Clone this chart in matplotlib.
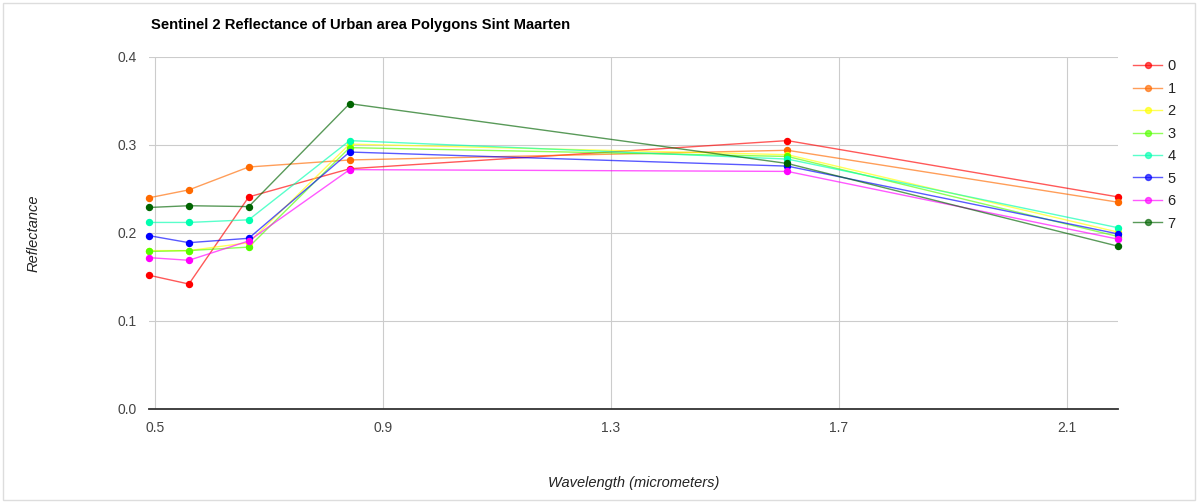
import matplotlib.pyplot as plt
from matplotlib.lines import Line2D
from matplotlib.patches import Rectangle

plt.rcParams['font.family'] = ['Liberation Sans', 'DejaVu Sans']

# Sentinel-2 band centres (micrometers): B2, B3, B4, B8, B11, B12
wavelength = [0.49, 0.56, 0.665, 0.842, 1.61, 2.19]

poly_0 = [0.152, 0.142, 0.241, 0.273, 0.305, 0.241]
poly_1 = [0.240, 0.249, 0.275, 0.283, 0.294, 0.235]
poly_2 = [0.180, 0.180, 0.189, 0.301, 0.289, 0.201]
poly_3 = [0.179, 0.180, 0.184, 0.297, 0.287, 0.196]
poly_4 = [0.212, 0.212, 0.215, 0.305, 0.284, 0.206]
poly_5 = [0.197, 0.189, 0.194, 0.292, 0.276, 0.199]
poly_6 = [0.172, 0.169, 0.191, 0.272, 0.270, 0.193]
poly_7 = [0.229, 0.231, 0.230, 0.347, 0.279, 0.185]

series = [poly_0, poly_1, poly_2, poly_3, poly_4, poly_5, poly_6, poly_7]
labels = ['0', '1', '2', '3', '4', '5', '6', '7']
colors = ['#ff0000', '#ff6a00', '#ffff00', '#55ff00',
          '#00ffb0', '#0000ff', '#ff00ff', '#006400']

xticks = [0.5, 0.9, 1.3, 1.7, 2.1]
yticks = [0.0, 0.1, 0.2, 0.3, 0.4]

fig = plt.figure(figsize=(11.98, 5.03), dpi=100)
ax = fig.add_axes([149 / 1198, 94 / 503, 969 / 1198, 352 / 503])

for vals, c, lab in zip(series, colors, labels):
    ax.plot(wavelength, vals, color=c, alpha=0.65, lw=1.0, zorder=3,
            clip_on=False)
    ax.plot(wavelength, vals, ls='none', marker='o', ms=4.3,
            color=c, zorder=4, clip_on=False)

ax.set_xlim(0.49, 2.19)
ax.set_ylim(0.0, 0.4)
ax.set_xticks(xticks)
ax.set_yticks(yticks)
ax.set_xticklabels(['0.5', '0.9', '1.3', '1.7', '2.1'])
ax.set_yticklabels(['0.0', '0.1', '0.2', '0.3', '0.4'])
ax.grid(True, color='#cccccc', lw=0.8, zorder=0)
for s in ['top', 'right', 'left']:
    ax.spines[s].set_visible(False)
ax.spines['bottom'].set_color('#333333')
ax.spines['bottom'].set_linewidth(1.3)
ax.spines['bottom'].set_zorder(5)
ax.tick_params(length=0, labelsize=10, labelcolor='#444444')
ax.tick_params(axis='x', pad=9)
ax.tick_params(axis='y', pad=9)

ax.set_xlabel('Wavelength (micrometers)', fontsize=10.5, style='italic',
              color='#222222', labelpad=29)
ax.set_ylabel('Reflectance', fontsize=10.5, style='italic',
              color='#222222', labelpad=55)

fig.text(151 / 1198, 1 - 25 / 503, 'Sentinel 2 Reflectance of Urban area Polygons Sint Maarten',
         fontsize=10.6, fontweight='bold', color='#000000', va='center')

handles = [Line2D([], [], color=c, lw=1.0, alpha=0.65, marker='o', ms=4.3,
                  markerfacecolor=c, markeredgecolor=c) for c in colors]
leg = fig.legend(handles, labels, loc='upper left',
                 bbox_to_anchor=(1126 / 1198, 1 - 52 / 503),
                 frameon=False, fontsize=10.5, handlelength=1.95,
                 handletextpad=0.4, labelspacing=0.58, borderpad=0)
for t in leg.get_texts():
    t.set_color('#222222')

# light frame around the whole chart
fig.patches.append(Rectangle((3 / 1198, 3 / 503), 1192 / 1198, 497 / 503,
                             transform=fig.transFigure, fill=False,
                             edgecolor='#dddddd', lw=1.0))

fig.savefig('out.png', dpi=100)
